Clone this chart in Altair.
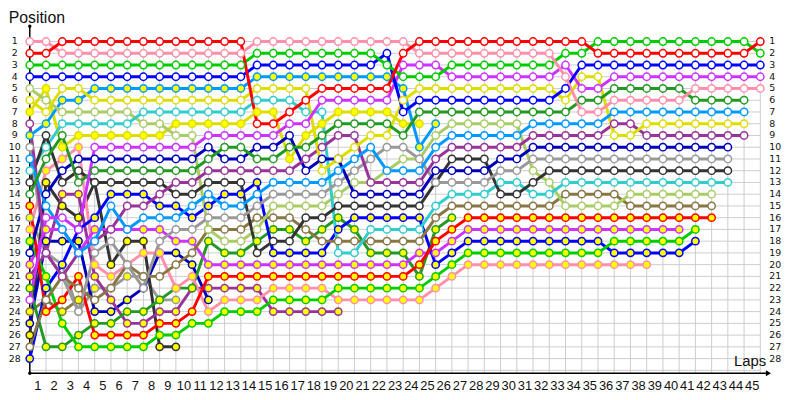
import altair as alt
import pandas as pd

# ---------------- data (positions per lap, lap 0 = start) ----------------
lap_labels = [str(i) for i in range(1, 46)]
pos_labels = [str(i) for i in range(1, 29)]

# class 1 (white markers)
red_w = [2,2,1,1,1,1,1,1,1,1,1,1,1,1,8,8,7,6,5,5,5,5,5,2,1,1,1,1,1,1,1,1,1,1,1,2,2,2,2,2,2,2,2,2,2,1]
pink_w = [1,1,2,2,2,2,2,2,2,2,2,2,2,2,1,1,1,1,1,1,1,1,1,1,2,2,2,2,2,2,2,2,2,4,7,7,6,6,6,6,6,5,5,5,5,5]
green_w = [3,3,3,3,3,3,3,3,3,3,3,3,3,3,2,2,2,2,2,2,2,2,3,4,4,4,3,3,3,3,3,3,3,2,2,1,1,1,1,1,1,1,1,1,1,2]
blue_w = [4,4,4,4,4,4,4,4,4,4,4,4,4,4,3,3,3,3,3,3,3,3,2,7,6,6,6,6,6,6,6,6,6,5,3,3,3,3,3,3,3,3,3,3,3,3]
violet_w = [23,16,16,17,10,10,10,10,10,10,10,9,9,9,9,9,8,8,6,6,6,6,6,3,3,3,4,4,4,4,4,4,4,3,5,5,4,4,4,4,4,4,4,4,4,4]
dkgreen_w = [14,11,9,13,12,12,12,12,12,12,12,11,10,10,11,11,10,10,9,8,8,8,8,9,7,7,7,7,7,7,7,7,7,7,6,6,5,5,5,5,5,6,6,6,6]
sky_w = [11,15,17,19,18,15,17,16,16,16,15,14,15,15,14,13,13,13,13,12,11,10,12,12,12,10,9,9,9,9,9,8,8,8,8,8,7,7,7,7,7,7,7,7,7]
yellow_w = [6,7,5,5,6,6,6,6,6,6,6,6,6,6,5,5,5,5,12,11,10,9,9,6,5,5,5,5,5,5,5,5,5,6,4,4,9,9,8,8,8,8,8,8,8]
dkpurple_w = [8,19,21,19,18,17,15,15,14,13,13,12,12,12,12,12,12,11,10,9,9,13,13,13,13,11,10,10,10,10,10,9,9,9,9,9,8,8,9,9,9,9,9,9,9]
navy_w = [19,14,12,11,11,11,11,11,11,11,11,10,11,11,10,10,9,12,11,11,14,14,14,14,14,12,12,12,12,11,11,10,10,10,10,10,10,10,10,10,10,10,10,10]
gray_w = [10,19,21,24,19,18,20,22,18,17,17,16,16,16,15,14,14,14,14,13,12,11,10,10,11,13,13,13,13,12,12,11,11,11,11,11,11,11,11,11,11,11,11,11]
black_w = [13,9,13,12,13,13,13,13,13,14,14,13,13,13,19,18,18,16,16,15,15,15,15,15,15,13,11,11,11,14,14,13,12,12,12,12,12,12,12,12,12,12,12,12]
cyan_w = [12,10,8,8,8,8,8,7,7,7,7,7,7,7,6,6,6,7,7,19,19,17,17,17,17,15,14,14,14,13,13,14,14,13,13,13,13,13,13,13,13,13,13,13]
lolive_w = [5,6,7,7,7,7,7,8,8,9,9,17,18,18,17,15,15,15,15,14,13,13,12,11,11,9,8,8,8,8,8,12,13,15,15,15,15,14,14,14,14,14,14]
olive_w = [27,23,21,22,23,22,20,21,21,20,19,17,17,17,16,16,16,17,18,18,18,18,18,18,18,16,15,15,15,15,15,15,15,14,14,14,14,15,15,15,15,15,15]

# class 2 (yellow markers)
red_y = [15,24,23,21,26,26,26,26,25,25,24,21,21,21,21,21,21,21,21,21,21,21,21,21,20,18,17,16,16,16,16,16,16,16,16,16,16,16,16,16,16,16,16]
green_y = [18,21,25,27,27,27,27,27,26,26,25,25,24,24,24,23,23,23,23,22,22,22,22,22,22,21,20,19,19,19,19,19,19,19,19,19,18,18,18,18,18,17]
blue_y = [28,22,20,17,16,14,14,14,15,15,16,15,14,14,13,19,19,19,19,17,16,16,16,16,16,20,19,18,18,18,18,18,18,18,18,18,19,19,19,19,19,18]
violet_y = [20,17,17,19,17,17,17,17,17,18,18,20,20,20,20,20,20,20,20,20,20,20,20,20,19,19,18,17,17,17,17,17,17,17,17,17,17,17,17,17,17]
pink_y = [17,12,11,10,20,21,20,19,19,22,21,24,23,23,23,22,22,22,22,23,23,23,23,23,23,22,21,20,20,20,20,20,20,20,20,20,20,20,20]
dkgreen_y = [22,27,27,26,25,25,24,24,23,22,22,18,19,19,18,17,17,18,17,16,17,19,19,19,21,17,16]
sky_y = [9,8,6,6,5,5,5,5,5,5,5,5,5,5,4,4,4,4,4,4,4,4,4,5,10,8]
yellow_y = [7,5,10,9,9,9,9,9,9,8,8,8,8,8,7,7,11,9,8,7,7,7,7,8,8]
dkpurple_y = [21,19,14,14,21,23,25,25,24,24,22,22,22,22,22,24,24,24,24,24]
navy_y = [25,18,18,18,24,24,23,22,19,19,20,23]
black_y = [26,13,15,16,13,20,18,18,27,27]
gray_y = [16,19,20,24,22,22,21,21,23,23]
olive_y = [24,23,24,23,22]

WHITE = "#ffffff"
YEL = "#ffff00"
series = [
    ("olive_y", "#887744", YEL, olive_y),
    ("gray_y", "#999999", YEL, gray_y),
    ("black_y", "#333333", YEL, black_y),
    ("navy_y", "#0000bb", YEL, navy_y),
    ("dkpurple_y", "#993399", YEL, dkpurple_y),
    ("yellow_y", "#dddd00", YEL, yellow_y),
    ("sky_y", "#0099ff", YEL, sky_y),
    ("dkgreen_y", "#229922", YEL, dkgreen_y),
    ("pink_y", "#ff8fab", YEL, pink_y),
    ("violet_y", "#cc33ff", YEL, violet_y),
    ("blue_y", "#0000ff", YEL, blue_y),
    ("green_y", "#00cc00", YEL, green_y),
    ("red_y", "#ff0000", YEL, red_y),
    ("olive_w", "#887744", WHITE, olive_w),
    ("lolive_w", "#aacc66", WHITE, lolive_w),
    ("cyan_w", "#33cccc", WHITE, cyan_w),
    ("black_w", "#333333", WHITE, black_w),
    ("gray_w", "#999999", WHITE, gray_w),
    ("navy_w", "#0000bb", WHITE, navy_w),
    ("dkpurple_w", "#993399", WHITE, dkpurple_w),
    ("yellow_w", "#dddd00", WHITE, yellow_w),
    ("sky_w", "#0099ff", WHITE, sky_w),
    ("dkgreen_w", "#229922", WHITE, dkgreen_w),
    ("violet_w", "#cc33ff", WHITE, violet_w),
    ("blue_w", "#0000ff", WHITE, blue_w),
    ("green_w", "#00cc00", WHITE, green_w),
    ("pink_w", "#ff8fab", WHITE, pink_w),
    ("red_w", "#ff0000", WHITE, red_w),
]

rows = []
for k, (name, col, fill, vals) in enumerate(series):
    for lap, p in enumerate(vals):
        rows.append({"driver": f"d{k:02d}_{name}", "lap": lap, "pos": p,
                     "col": col, "fill": fill, "k": k})
df = pd.DataFrame(rows)

XS = alt.Scale(domain=[0, 45], nice=False, zero=False)
YS = alt.Scale(domain=[0, 29.25], nice=False, zero=False, reverse=True)


def xq(f):
    return alt.X(f, type="quantitative", scale=XS, axis=None)


def yq(f):
    return alt.Y(f, type="quantitative", scale=YS, axis=None)


n_laps = len(lap_labels)
vgrid = pd.DataFrame({"lap": list(range(n_laps + 1)), "y0": 0.6, "y1": 29.25})
hgrid = pd.DataFrame({"pos": list(range(1, len(pos_labels) + 2)), "x0": 0, "x1": n_laps})

vg = alt.Chart(vgrid).mark_rule(color="#cccccc", strokeWidth=1).encode(
    x=xq("lap"), y=yq("y0"), y2="y1")
hg = alt.Chart(hgrid).mark_rule(color="#cccccc", strokeWidth=1).encode(
    y=yq("pos"), x=xq("x0"), x2="x1")

axes_df = pd.DataFrame({"x0": [0, 0], "x1": [0, 45.35], "y0": [-0.3, 29.25], "y1": [29.25, 29.25]})
axes = alt.Chart(axes_df).mark_rule(color="black", strokeWidth=1.5).encode(
    x=xq("x0"), x2="x1", y=yq("y0"), y2="y1")
arrow_r = alt.Chart(pd.DataFrame({"lap": [45.5], "pos": [29.25]})).mark_point(
    shape="triangle-right", filled=True, color="black", size=35, opacity=1).encode(x=xq("lap"), y=yq("pos"))
dot_t = alt.Chart(pd.DataFrame({"lap": [0, 0], "pos": [-0.3, 29.25]})).mark_point(
    shape="circle", filled=True, color="black", size=12, opacity=1).encode(x=xq("lap"), y=yq("pos"))

lines = alt.Chart(df).mark_line(strokeWidth=3).encode(
    x=xq("lap"), y=yq("pos"), detail="driver:N",
    stroke=alt.Stroke("col:N", scale=None), order=alt.Order("lap:Q"))

points = alt.Chart(df).mark_point(shape="circle", filled=True, size=55, strokeWidth=1.5, opacity=1).encode(
    x=xq("lap"), y=yq("pos"),
    fill=alt.Fill("fill:N", scale=None),
    stroke=alt.Stroke("col:N", scale=None),
    order=alt.Order("k:Q"))

yl = pd.DataFrame({"lbl": pos_labels, "pos": list(range(1, len(pos_labels) + 1))})
yl["lapL"] = -0.92
yl["lapR"] = 45.55
ylab_l = alt.Chart(yl).mark_text(align="center", baseline="middle", fontSize=9.5,
                                 font="DejaVu Sans", color="#111111").encode(
    x=xq("lapL"), y=yq("pos"), text="lbl:N")
ylab_r = alt.Chart(yl).mark_text(align="left", baseline="middle", fontSize=9.5,
                                 font="DejaVu Sans", color="#111111").encode(
    x=xq("lapR"), y=yq("pos"), text="lbl:N")

xl = pd.DataFrame({"lbl": lap_labels, "lap": [i + 0.5 for i in range(n_laps)]})
xl["pos"] = 30.35
xlab = alt.Chart(xl).mark_text(align="center", baseline="middle", fontSize=13,
                               font="Liberation Sans", color="#111111").encode(
    x=xq("lap"), y=yq("pos"), text="lbl:N")

titles = pd.DataFrame({"t": ["Position", "Laps"], "lap": [-1.3, 43.38],
                       "pos": [-0.6, 28.66], "fs": [16, 15]})
ttl_p = alt.Chart(titles.iloc[[0]]).mark_text(align="left", baseline="alphabetic", fontSize=16,
                                              font="Liberation Sans", color="#111111").encode(
    x=xq("lap"), y=yq("pos"), text="t:N")
ttl_l = alt.Chart(titles.iloc[[1]]).mark_text(align="left", baseline="alphabetic", fontSize=15,
                                              font="Liberation Sans", color="#111111").encode(
    x=xq("lap"), y=yq("pos"), text="t:N")

chart = alt.layer(vg, hg, axes, arrow_r, dot_t, lines, points, ylab_l, ylab_r, xlab, ttl_p, ttl_l).properties(
    width=738, height=347,
    padding={"left": 22, "top": 20, "right": 32, "bottom": 25},
    autosize="none",
    background="white",
).configure_view(stroke=None)

chart.save("out.html", embed_options={"renderer": "svg", "actions": False})
